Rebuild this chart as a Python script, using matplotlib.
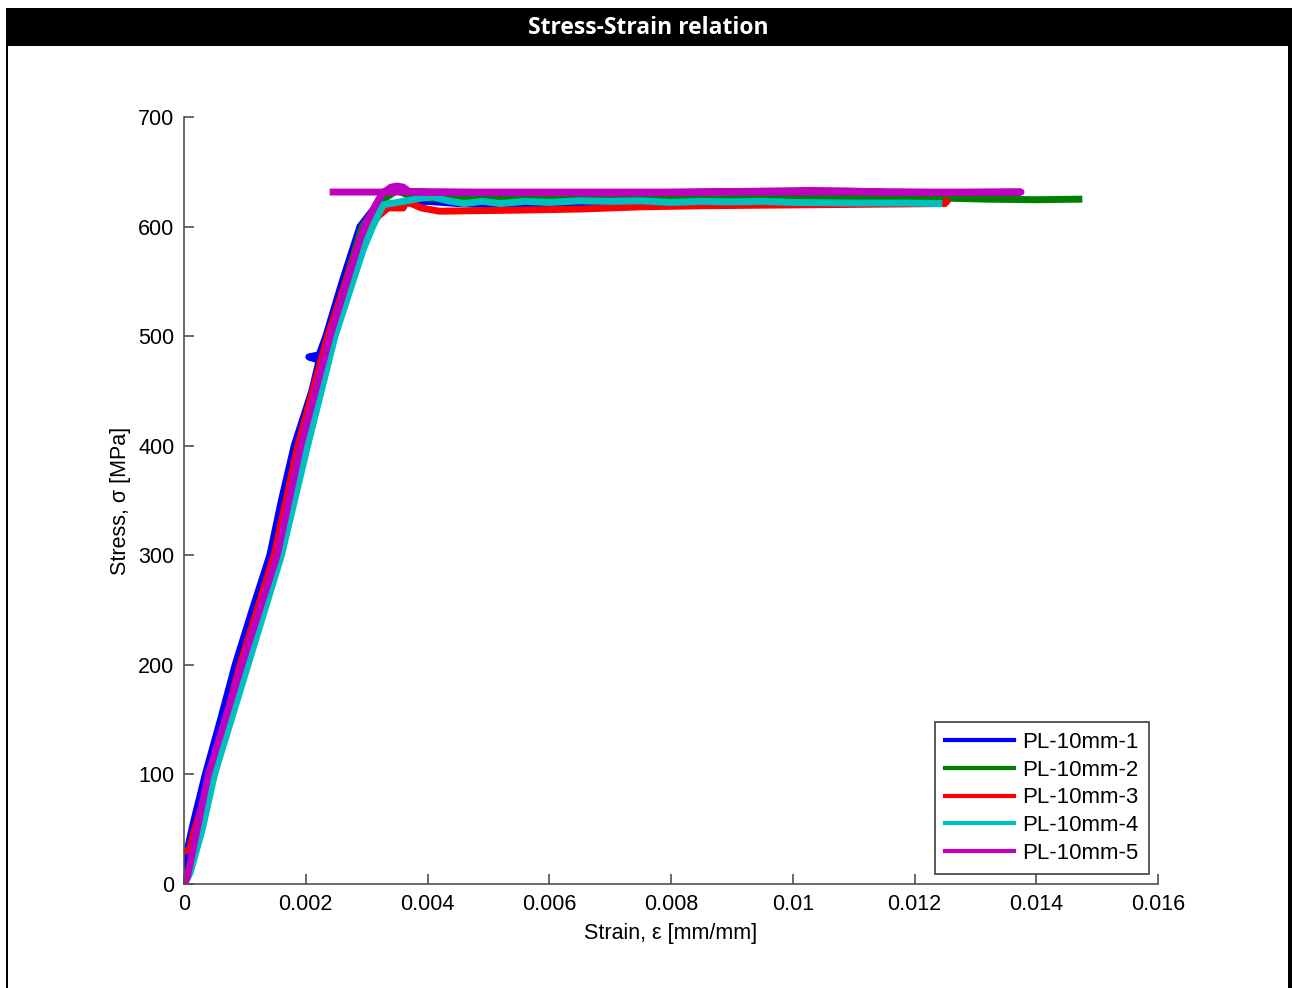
import matplotlib.pyplot as plt
from matplotlib.patches import Rectangle

plt.rcParams['font.family'] = ['Liberation Sans', 'DejaVu Sans']

# strain [mm/mm] / stress [MPa] for each coupon
pl1_strain = [0, 0.00005, 0.00015, 0.00035, 0.0006, 0.00084, 0.00112, 0.00141, 0.0016, 0.00181, 0.0021,
              0.00222, 0.00205, 0.00222, 0.00233, 0.0026, 0.00289, 0.0031, 0.0033, 0.0036, 0.004, 0.0045,
              0.005, 0.0055, 0.006, 0.0065, 0.007, 0.0075, 0.008, 0.009, 0.010, 0.011, 0.0122]
pl1_stress = [0, 30, 55, 100, 150, 200, 250, 300, 350, 400, 450,
              478, 481, 483, 500, 550, 600, 615, 620, 621, 623, 621,
              620, 619.5, 620, 621, 620, 620.5, 621, 621, 621.5, 621.5, 622]

pl2_strain = [0, 0.0002, 0.0004, 0.00088, 0.0015, 0.0019, 0.00238, 0.00293, 0.0032, 0.0035, 0.0037,
              0.004, 0.005, 0.006, 0.007, 0.0085, 0.0102, 0.0115, 0.0125, 0.0132, 0.014, 0.0147]
pl2_stress = [0, 35, 80, 180, 300, 400, 500, 600, 622, 633, 628,
              626, 625, 625.5, 625, 625, 627, 626.5, 626, 625, 624.5, 625]

pl3_strain = [0, 0.0001, 0.00015, 0.00045, 0.00092, 0.00148, 0.00187, 0.00236, 0.0029, 0.0032, 0.00335,
              0.0036, 0.00365, 0.0039, 0.0042, 0.0048, 0.0055, 0.0065, 0.0075, 0.0085, 0.0095, 0.0105,
              0.0115, 0.0125, 0.01253]
pl3_stress = [30, 31, 45, 100, 200, 300, 400, 500, 590, 610, 617,
              617, 623, 617, 614, 614.5, 615, 616, 618, 619, 619.5, 620,
              620.5, 621, 623]

pl4_strain = [0, 0.0001, 0.0003, 0.0005, 0.00105, 0.0016, 0.00203, 0.00248, 0.00295, 0.0031, 0.0032,
              0.00328, 0.0035, 0.0037, 0.0039, 0.0041, 0.0043, 0.0046, 0.0049, 0.0052, 0.0056, 0.006,
              0.0065, 0.007, 0.0075, 0.008, 0.0085, 0.009, 0.0095, 0.010, 0.011, 0.0118, 0.0124]
pl4_stress = [0, 10, 50, 100, 200, 300, 400, 500, 580, 600, 612,
              620, 622, 624, 626, 627, 624, 621, 623, 621, 623, 622,
              623.5, 623, 623.5, 622, 623, 622.5, 623, 622, 621.5, 621.5, 621]

pl5_strain = [0, 0.00005, 0.0004, 0.00095, 0.00153, 0.00192, 0.0024, 0.00296, 0.0031, 0.0032, 0.0033,
              0.0034, 0.0035, 0.0036, 0.0037, 0.004, 0.005, 0.006, 0.007, 0.0085, 0.0103, 0.0109,
              0.0115, 0.0125, 0.01375, 0.00245]
pl5_stress = [0, 5, 100, 200, 300, 400, 500, 600, 615, 625, 632,
              636, 637, 636, 632, 631.5, 631, 631, 630.5, 631.5, 633, 632.5,
              631.5, 631, 631.5, 631.5]

names = ['PL-10mm-1', 'PL-10mm-2', 'PL-10mm-3', 'PL-10mm-4', 'PL-10mm-5']
colors = ['#0000ff', '#008000', '#ff0000', '#00bfbf', '#bf00bf']
x_ticks = [0, 0.002, 0.004, 0.006, 0.008, 0.01, 0.012, 0.014, 0.016]
x_tick_labels = ['0', '0.002', '0.004', '0.006', '0.008', '0.01', '0.012', '0.014', '0.016']
y_ticks = [0, 100, 200, 300, 400, 500, 600, 700]

fig = plt.figure(figsize=(12.92, 9.88), dpi=100)
ax = fig.add_axes([184 / 1292, 1 - 884 / 988, 974 / 1292, 767 / 988])

curves = [(pl1_strain, pl1_stress), (pl2_strain, pl2_stress), (pl3_strain, pl3_stress),
          (pl4_strain, pl4_stress), (pl5_strain, pl5_stress)]
for (xs, ys), name, c in zip(curves, names, colors):
    ax.plot(xs, ys, color=c, linewidth=5, label=name)

ax.set_xlim(0, 0.016)
ax.set_ylim(0, 700)
ax.set_xticks(x_ticks)
ax.set_xticklabels(x_tick_labels)
ax.set_yticks(y_ticks)
for s in ['top', 'right']:
    ax.spines[s].set_visible(False)
for s in ['left', 'bottom']:
    ax.spines[s].set_color('#505050')
    ax.spines[s].set_linewidth(1.2)
ax.tick_params(direction='in', length=7, width=1.2, color='#505050', labelsize=15.5, pad=7)
ax.set_xlabel('Strain, ε [mm/mm]', fontsize=15.5, labelpad=6)
ax.set_ylabel('Stress, σ [MPa]', fontsize=15.5, labelpad=5)

leg = ax.legend(loc='upper right', bbox_to_anchor=(1149 / 1292, 1 - 722 / 988),
                bbox_transform=fig.transFigure, fontsize=16, fancybox=False,
                edgecolor='#404040', framealpha=1, handlelength=3.1, handletextpad=0.4,
                labelspacing=0.3, borderpad=0.45, borderaxespad=0)
leg.get_frame().set_linewidth(1.2)
for h in leg.get_lines():
    h.set_linewidth(3)

# black title bar and figure frame
fig.add_artist(Rectangle((6 / 1292, 1 - 46 / 988), 1 - 6 / 1292, 38 / 988,
                         transform=fig.transFigure, facecolor='black', edgecolor='none'))
fig.add_artist(Rectangle((6 / 1292, 0), 2 / 1292, 1 - 46 / 988,
                         transform=fig.transFigure, facecolor='black', edgecolor='none'))
fig.add_artist(Rectangle((1288 / 1292, 0), 4 / 1292, 1 - 46 / 988,
                         transform=fig.transFigure, facecolor='black', edgecolor='none'))
fig.text(648 / 1292, 1 - 28 / 988, 'Stress-Strain relation', color='white', fontsize=16.5,
         fontweight='bold', family=['Open Sans', 'DejaVu Sans'], ha='center', va='center')

fig.savefig('out.png', dpi=100)
